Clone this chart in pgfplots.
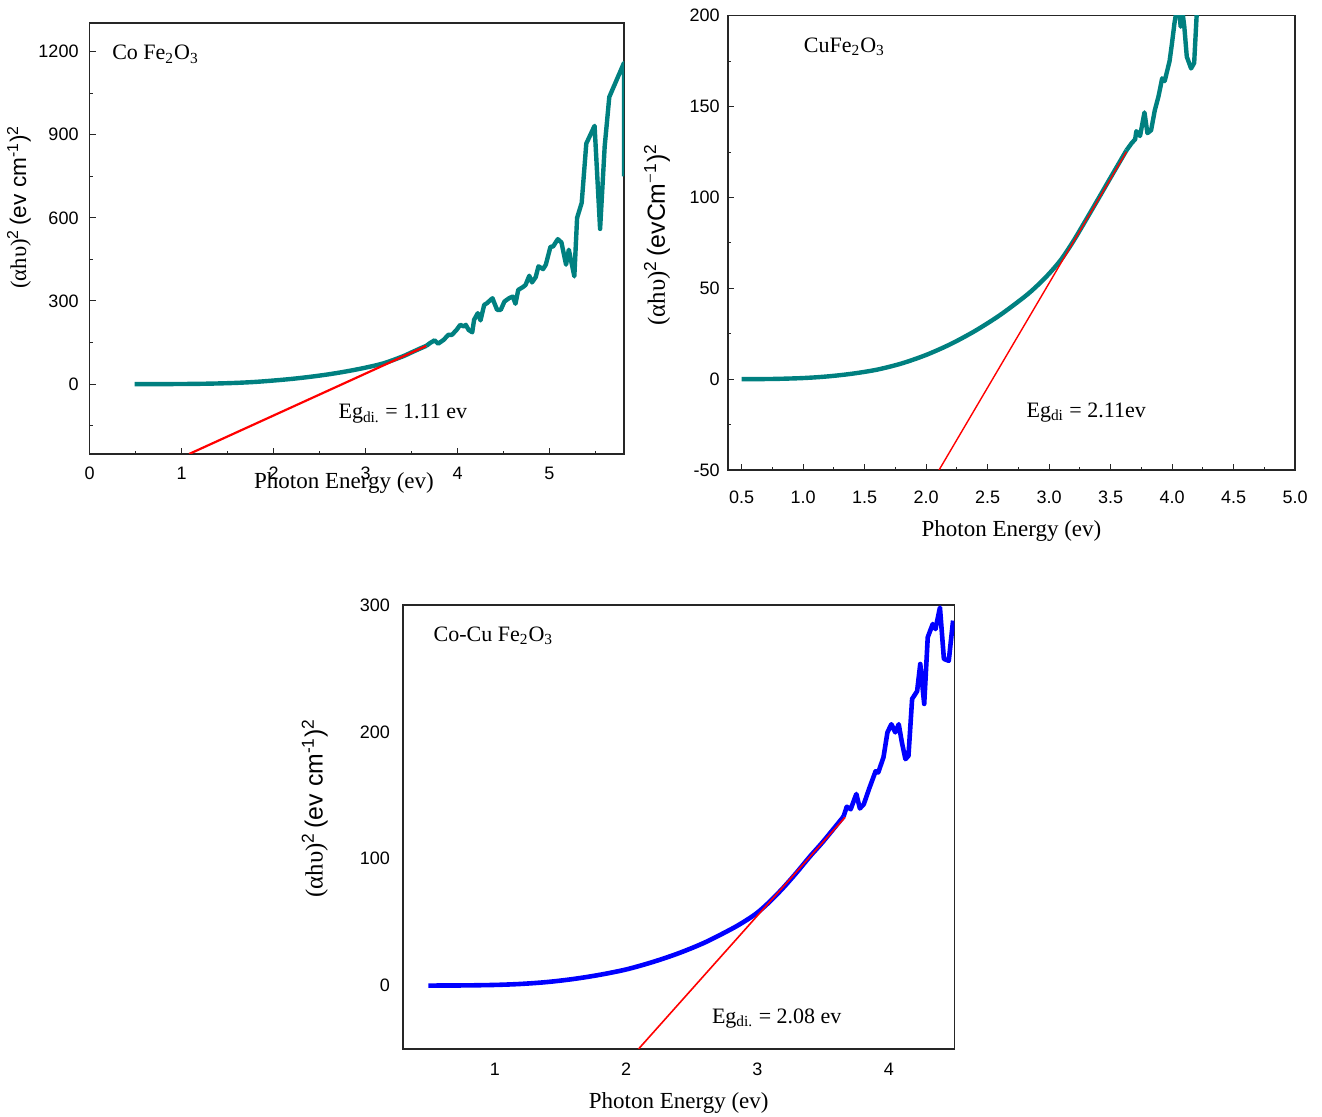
\documentclass[border=0pt]{standalone}
\usepackage{fontspec}
\setmainfont{Liberation Serif}
\setsansfont{Liberation Sans}
\usepackage{pgfplots}
\pgfplotsset{compat=1.18}
\definecolor{tealc}{RGB}{0,128,128}
\pgfplotsset{
  myax/.style={
    scale only axis, anchor=south west, clip=true,
    axis line style={black!85, line width=0.6pt},
    tick align=inside, major tick length=3pt, minor tick length=1.6pt,
    every tick/.style={black!85, line width=0.5pt},
    xtick pos=left, ytick pos=left,
    ticklabel style={font=\sffamily\fontsize{9}{10}\selectfont},
    /pgf/number format/assume math mode=true,
    /pgf/number format/1000 sep={},
    xlabel style={font=\rmfamily\fontsize{11.5}{13}\selectfont, anchor=center},
    ylabel style={anchor=center},
  },
}
\tikzset{anno/.style={font=\rmfamily\fontsize{11}{13}\selectfont, anchor=west}}
\begin{document}
\begin{tikzpicture}
\path[use as bounding box] (0,0) rectangle (661pt,558.5pt);
% ---------------- Panel 1 ----------------
\begin{axis}[myax,
  at={(44.8pt,331.5pt)}, width=267.2pt, height=215.5pt,
  xmin=0, xmax=5.81, ymin=-252, ymax=1303,
  xtick={0,1,2,3,4,5}, minor xtick={0.5,1.5,2.5,3.5,4.5,5.5},
  ytick={0,300,600,900,1200}, minor ytick={-150,150,450,750,1050},
  xticklabel style={yshift=-3pt}, yticklabel style={xshift=-2pt},
  xlabel={Photon Energy (ev)},
  xlabel style={at={(axis description cs:0.476,-0.067)}},
  ylabel={{\rmfamily(αhυ)}\textsuperscript{2}\,(ev cm\textsuperscript{-1})\textsuperscript{2}},
  ylabel style={font=\sffamily\fontsize{11.3}{13}\selectfont, at={(axis description cs:-0.132,0.573)}},
]
\addplot[tealc, line width=2.2pt, line join=round, smooth] coordinates {
(0.49,0) (0.75,0.1) (1.0,0.5) (1.2,1.2) (1.4,2.5) (1.6,4.6) (1.8,8) (2.0,13)
(2.2,19) (2.4,26.5) (2.6,35.5) (2.8,46.5) (3.0,59.5) (3.2,75.5) (3.4,99.5)
(3.5,114.5) (3.6,129.5) (3.66,138)
};
\addplot[tealc, line width=2.2pt, line join=round] coordinates {
(3.66,138)
(3.70,148) (3.75,158) (3.79,146) (3.85,160) (3.90,178) (3.94,178) (3.99,196)
(4.03,214) (4.07,208) (4.09,214) (4.12,196) (4.16,187) (4.18,232) (4.22,256)
(4.25,230) (4.29,286) (4.32,292) (4.38,310) (4.43,268) (4.47,268) (4.51,298)
(4.56,310) (4.60,316) (4.63,290) (4.66,340) (4.71,350) (4.74,358) (4.78,391)
(4.81,367) (4.85,386) (4.88,425) (4.93,415) (4.96,431) (5.01,495) (5.04,497)
(5.09,523) (5.13,511) (5.18,431) (5.21,485) (5.27,389) (5.30,600) (5.35,654)
(5.40,868) (5.49,932) (5.55,560) (5.60,858) (5.65,1036) (5.81,1159) (5.81,750)
};
\addplot[red, line width=1.1pt] coordinates {(1.082,-252) (3.66,138)};
\node[anno] at (axis cs:0.17,1190) {Co Fe\textsubscript{2}O\textsubscript{3}};
\node[anno] at (axis cs:2.63,-108) {Eg\textsubscript{di.} = 1.11 ev};
\end{axis}
% ---------------- Panel 2 ----------------
\begin{axis}[myax,
  at={(364pt,323.5pt)}, width=283.5pt, height=227.1pt,
  xmin=0.39, xmax=5.0, ymin=-50, ymax=200,
  xtick={0.5,1.0,1.5,2.0,2.5,3.0,3.5,4.0,4.5,5.0},
  minor xtick={0.75,1.25,1.75,2.25,2.75,3.25,3.75,4.25,4.75},
  ytick={-50,0,50,100,150,200}, minor ytick={-25,25,75,125,175},
  xticklabel style={yshift=-7pt, /pgf/number format/.cd, fixed, fixed zerofill, precision=1},
  yticklabel style={xshift=-0.7pt},
  xlabel={Photon Energy (ev)},
  xlabel style={at={(axis description cs:0.5,-0.134)}},
  ylabel={{\rmfamily(αhυ)}\textsuperscript{2}\,(evCm\textsuperscript{{\rmfamily−}1})\textsuperscript{2}},
  ylabel style={font=\sffamily\fontsize{12.4}{14}\selectfont, at={(axis description cs:-0.125,0.518)}},
]
\addplot[tealc, line width=2.2pt, line join=round, smooth] coordinates {
(0.5,0) (0.75,0.1) (1.0,0.6) (1.2,1.5) (1.4,3.0) (1.6,5.2) (1.8,8.6) (2.0,13.3)
(2.2,19.3) (2.4,26.6) (2.6,35.2) (2.8,45.3) (2.9,51.2) (3.0,58.0) (3.1,66.0)
(3.2,76.2) (3.3,87.6) (3.4,99.2) (3.5,110.9) (3.63,126)
};
\addplot[tealc, line width=2.2pt, line join=round] coordinates {
(3.63,126)
(3.673,130) (3.70,132) (3.71,136.5) (3.74,133.8) (3.776,146.8) (3.80,135.4)
(3.83,137) (3.86,148) (3.89,155.6) (3.92,165.6) (3.94,164) (3.98,175) (4.00,185)
(4.02,196) (4.035,202) (4.06,203) (4.07,194) (4.085,202) (4.10,194) (4.12,177.5)
(4.155,171) (4.18,174) (4.20,200) (4.21,215)
};
\addplot[red, line width=0.7pt] coordinates {(2.106,-50) (3.63,125.2)};
\node[anno] at (axis cs:0.95,183) {CuFe\textsubscript{2}O\textsubscript{3}};
\node[anno] at (axis cs:2.76,-18.3) {Eg\textsubscript{di} = 2.11ev};
\end{axis}
% ---------------- Panel 3 ----------------
\begin{axis}[myax,
  at={(201.5pt,34pt)}, width=275.7pt, height=222pt,
  xmin=0.3, xmax=4.5, ymin=-50, ymax=300,
  xtick={1,2,3,4}, ytick={0,100,200,300},
  major tick length=0pt, minor tick length=0pt,
  xticklabel style={yshift=-3.5pt}, yticklabel style={xshift=-3pt},
  xlabel={Photon Energy (ev)},
  xlabel style={at={(axis description cs:0.5,-0.122)}},
  ylabel={{\rmfamily(αhυ)}\textsuperscript{2}\,(ev cm\textsuperscript{-1})\textsuperscript{2}},
  ylabel style={font=\sffamily\fontsize{12.4}{14}\selectfont, at={(axis description cs:-0.16,0.543)}},
]
\addplot[blue, line width=2.3pt, line join=round, smooth] coordinates {
(0.493,0) (0.75,0.1) (1.0,0.5) (1.2,1.3) (1.4,2.8) (1.6,5.2) (1.8,8.5) (2.0,12.7)
(2.2,18.5) (2.4,25.5) (2.6,34) (2.8,44.5) (2.9,50.5) (3.0,57.5) (3.1,66.8)
(3.2,77.5) (3.3,89.3) (3.4,101.8) (3.5,113.5) (3.656,133.3)
};
\addplot[blue, line width=2.3pt, line join=round] coordinates {
(3.656,133.3)
(3.68,141) (3.71,139) (3.753,151) (3.78,139.6) (3.81,143) (3.85,155) (3.90,169)
(3.92,168) (3.96,180) (3.99,199.6) (4.02,206) (4.05,199.6) (4.076,206) (4.10,191.7)
(4.127,178.5) (4.15,181) (4.178,226) (4.216,232) (4.24,253.5) (4.27,222)
(4.297,274.6) (4.335,285) (4.356,281) (4.39,298) (4.42,257.5) (4.457,256) (4.49,287.7)
};
\addplot[red, line width=0.8pt] coordinates {(2.094,-50) (3.668,132.7)};
\node[anno] at (axis cs:0.48,275.6) {Co-Cu Fe\textsubscript{2}O\textsubscript{3}};
\node[anno] at (axis cs:2.6,-25.7) {Eg\textsubscript{di.} = 2.08 ev};
\end{axis}
\end{tikzpicture}
\end{document}
